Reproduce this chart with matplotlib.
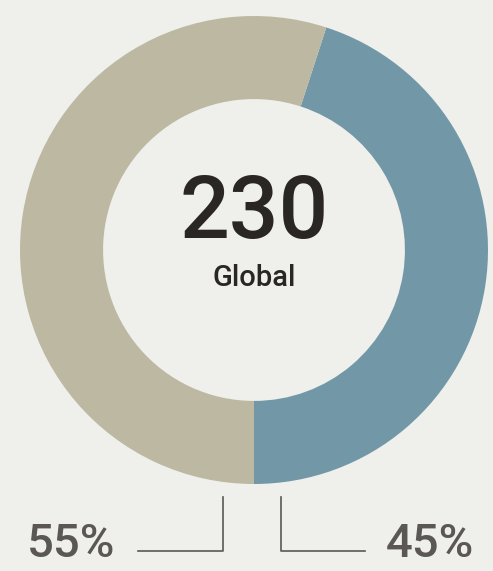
import matplotlib
matplotlib.use("Agg")
from matplotlib import pyplot as plt

# donut shares (blue first, then beige) and the headline number
shares = [45, 55]
share_labels = ["45%", "55%"]
colors = ["#7298a7", "#bdb8a1"]
total = "230"
total_label = "Global"

W, H = 493, 571
bg = "#efefeb"
ink = "#5b5853"

fig = plt.figure(figsize=(W / 100, H / 100), dpi=100, facecolor=bg)
ax = fig.add_axes([0, 0, 1, 1])

# work in pixel coordinates from the top
def py(y):
    return H - y

cx, cy, r = 254, 250, 234
ax.pie(shares, colors=colors, startangle=72, counterclock=False,
       center=(cx, py(cy)), radius=r,
       wedgeprops=dict(width=r * 0.355, linewidth=0))
ax.set_xlim(0, W)
ax.set_ylim(0, H)
ax.set_aspect("equal")
ax.axis("off")

ax.text(cx, py(238), total, ha="center", va="baseline",
        fontsize=63, family="Roboto", fontweight="medium", color="#2a2624")
ax.text(cx, py(286), total_label, ha="center", va="baseline",
        fontsize=21, family="Roboto", fontweight="medium", color="#2a2624")

# bracket leaders under the donut
ax.plot([138, 223, 223], [py(551), py(551), py(497)], color=ink, lw=1.2)
ax.plot([281, 281, 365], [py(497), py(551), py(551)], color=ink, lw=1.2)

ax.text(27, py(557), share_labels[1], ha="left", va="baseline",
        fontsize=34, family="Roboto", fontweight="medium", color=ink)
ax.text(474, py(557), share_labels[0], ha="right", va="baseline",
        fontsize=34, family="Roboto", fontweight="medium", color=ink)

fig.savefig("out.png", dpi=100, facecolor=bg)
